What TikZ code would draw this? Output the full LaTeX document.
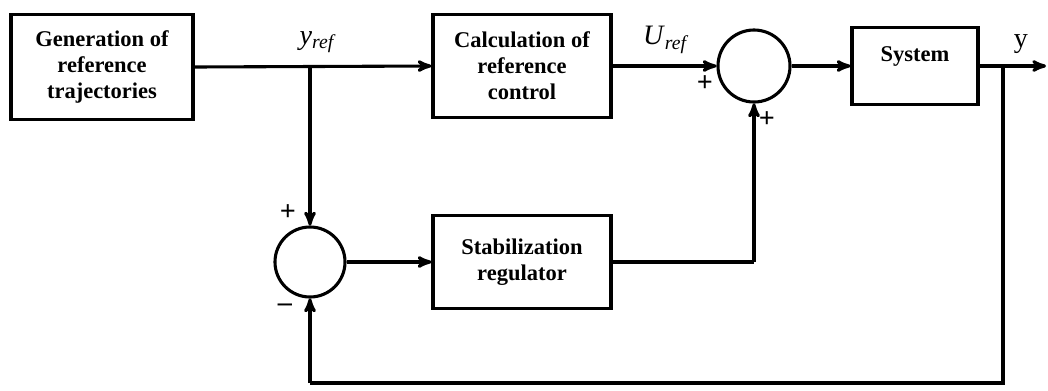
\documentclass[tikz,border=0pt]{standalone}
\usepackage{fontspec}
\setmainfont{Liberation Serif}
\usepackage{tikz}
\usetikzlibrary{arrows}
\tikzset{
	blk/.style = {draw=black, rectangle, line width=2.2pt, align=center,
		inner sep=0pt, font=\bfseries\fontsize{16}{18.5}\selectfont},
	sumnode/.style = {draw=black, circle, line width=2.2pt, minimum size=1.8cm,
		inner sep=0pt},
	sgn/.style = {font=\bfseries\fontsize{20}{20}\selectfont, inner sep=0pt},
	lbl/.style = {font=\fontsize{20}{20}\selectfont, inner sep=0pt}
}
\begin{document}
\begin{tikzpicture}[x=0.025cm, y=-0.025cm, ->, >=stealth', line width=2.2pt]
\useasboundingbox (0,0) rectangle (1048,390);
% blocks
\node [blk, minimum width=4.55cm, minimum height=2.62cm] (gen) at (102,67)
	{Generation of\\reference\\trajectories};
\node [blk, minimum width=4.45cm, minimum height=2.57cm] (calc) at (522,66)
	{Calculation of\\reference\\control};
\node [sumnode] (sum1) at (754,66) {};
\node [blk, minimum width=3.15cm, minimum height=1.92cm] (sys) at (915,66)
	{System\\[-2pt]};
\node [sumnode, minimum size=1.75cm] (sum2) at (310,262) {};
\node [blk, minimum width=4.45cm, minimum height=2.32cm] (stab) at (522,262)
	{Stabilization\\regulator};
% points
\coordinate (br1) at (310,66);
\coordinate (br2) at (1003,66);
\coordinate (out) at (1046,66);
\coordinate (c1) at (1003,383);
\coordinate (c2) at (310,383);
\coordinate (c3) at (754,262);
% connectors
\draw (gen.east) -- (calc.west);
\draw (calc.east) -- (sum1.west);
\draw (sum1.east) -- (sys.west);
\draw (sys.east) -- (out);
\draw (br1) -- (sum2.north);
\draw (sum2.east) -- (stab.west);
\draw [-] (stab.east) -- (c3);
\draw (c3) -- (sum1.south);
\draw [-] (br2) -- (c1) -- (c2);
\draw (c2) -- (sum2.south);
% labels
\node [lbl] (yref) at (318,42) {\textit{y}\textsubscript{\textit{ref}}};
\node [lbl] (uref) at (666,40) {\textit{U}\textsubscript{\textit{ref}}};
\node [lbl] (yout) at (1021,44) {y};
\node [sgn] (p1) at (705,84) {+};
\node [sgn] (p2) at (767,120) {+};
\node [sgn] (p3) at (288,213) {+};
\node [sgn] (m1) at (285,308) {\textendash};
\end{tikzpicture}
\end{document}
